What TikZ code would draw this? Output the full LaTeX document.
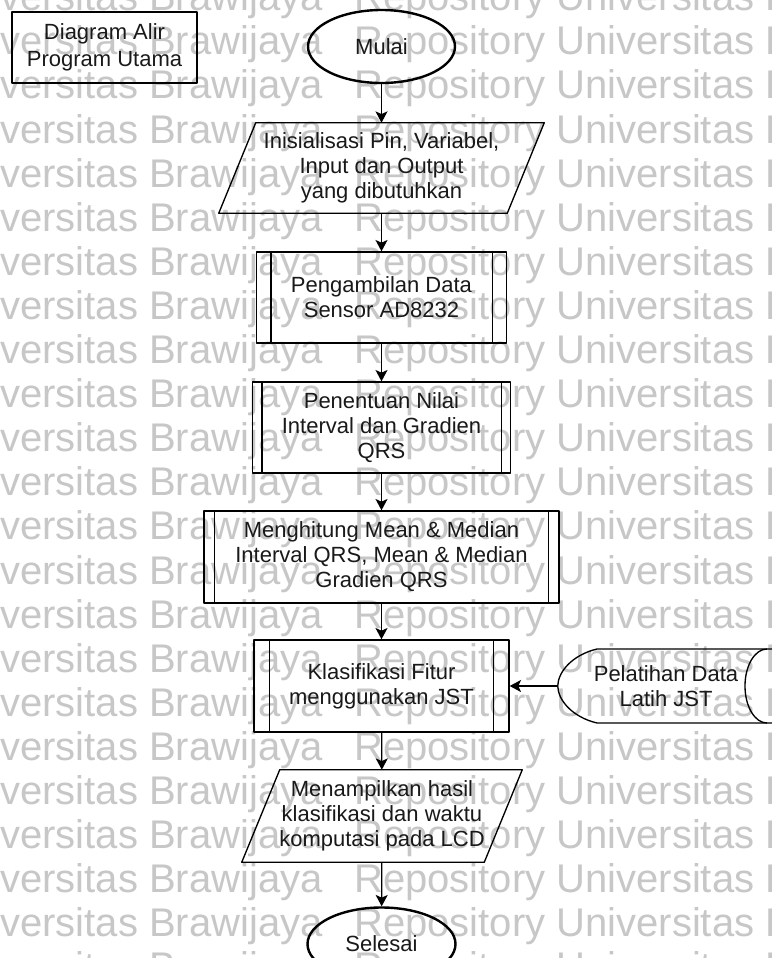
\documentclass[tikz,border=0pt]{standalone}
\usepackage{fontspec}
\setmainfont{Liberation Sans}
\usetikzlibrary{shapes.geometric,arrows.meta}

\newcommand{\px}{*0.75pt} % one pixel of the drawing

\begin{document}
\begin{tikzpicture}[
  x=0.75pt, y=-0.75pt, % pixel size, y runs downward
  font=\fontsize{16.5}{18.75}\selectfont,
  line join=round,
  box/.style={draw, line width=1pt, align=center, text=black!90},
  term/.style={box, ellipse, line width=1.8pt, minimum width=147\px, minimum height=73\px},
  io/.style={align=center, text=black!90, rectangle, minimum height=90\px, inner sep=0pt},
  subproc/.style={box, rectangle, minimum height=91\px},
  arr/.style={-{Stealth[length=8.5pt,width=9pt,inset=2pt]}, line width=1pt},
  wm/.style={font=\fontsize{30}{30}\selectfont, text=black!22, inner sep=0pt, anchor=base west}
]
  % ---- page ----
  \useasboundingbox (0,0) rectangle (772,958);
  \clip (0,0) rectangle (772,958);
  \fill[white] (0,0) rectangle (772,958);

  % ---- watermark rows ----
  \foreach \k in {-3,...,19}{
    \pgfmathsetmacro{\b}{143+44.1*\k}
    \node[wm] (wmL\k) at (-60,\b) {Universitas Brawijaya};
    \node[wm] (wmR\k) at (354,\b) {Repository Universitas Brawijaya};
  }

  % ---- title ----
  \node[box, line width=0.8pt, minimum width=185\px, minimum height=71\px] (title) at (104.5,47.5) {Diagram Alir\\[1.5pt]Program Utama};

  % ---- main flow ----
  \node[term] (start) at (381.5,46.5) {Mulai};
  \node[io, minimum width=288\px] (init) at (381.5,168) {Inisialisasi Pin, Variabel,\\Input dan Output\\yang dibutuhkan};
  \node[subproc, minimum width=250\px] (grab) at (381.5,297.5) {Pengambilan Data\\Sensor AD8232};
  \node[subproc, minimum width=258\px] (gap) at (381.5,427.5) {Penentuan Nilai\\Interval dan Gradien\\QRS};
  \node[subproc, minimum width=355\px, minimum height=92\px] (mean) at (381.5,557) {Menghitung Mean \& Median\\Interval QRS, Mean \& Median\\Gradien QRS};
  \node[subproc, minimum width=255\px, minimum height=92\px] (jst) at (381.5,686) {Klasifikasi Fitur\\menggunakan JST};
  \node[io, minimum width=242\px, minimum height=92\px] (show) at (382,816) {Menampilkan hasil\\klasifikasi dan waktu\\komputasi pada LCD};
  \node[term, minimum width=148\px] (stop) at (381.5,944) {Selesai};

  % slanted outline of the input/output nodes
  \foreach \n/\s in {init/37, show/38}{
    \draw[line width=1pt] ([xshift=\s/2\px]\n.north west) -- ([xshift=\s/2\px]\n.north east)
      -- ([xshift=-\s/2\px]\n.south east) -- ([xshift=-\s/2\px]\n.south west) -- cycle;
  }

  % inner bars of the predefined processes
  \foreach \n/\d in {grab/15, gap/10, mean/11, jst/16}{
    \draw[line width=1pt] ([xshift=\d\px]\n.north west) -- ([xshift=\d\px]\n.south west);
    \draw[line width=1pt] ([xshift=-\d\px]\n.north east) -- ([xshift=-\d\px]\n.south east);
  }

  % ---- training input (display shape) ----
  \node[align=center, minimum width=216\px, text=black!90] (train) at (666,686) {Pelatihan Data\\Latih JST};
  \draw[line width=1pt] (780,649) -- (597,649) .. controls (572,655) and (558,672) .. (train.west)
    .. controls (558,700) and (572,717) .. (597,723) -- (780,723);
  \draw[line width=1pt] (767,649) arc[start angle=-90, end angle=-270, x radius=22, y radius=37];

  % ---- connectors ----
  \draw[arr] (start) -- (init);
  \draw[arr] (init) -- (grab);
  \draw[arr] (grab) -- (gap);
  \draw[arr] (gap) -- (mean);
  \draw[arr] (mean) -- (jst);
  \draw[arr] (jst) -- (show);
  \draw[arr] (show) -- (stop);
  \draw[arr] (train.west) -- (jst.east);

\end{tikzpicture}
\end{document}
